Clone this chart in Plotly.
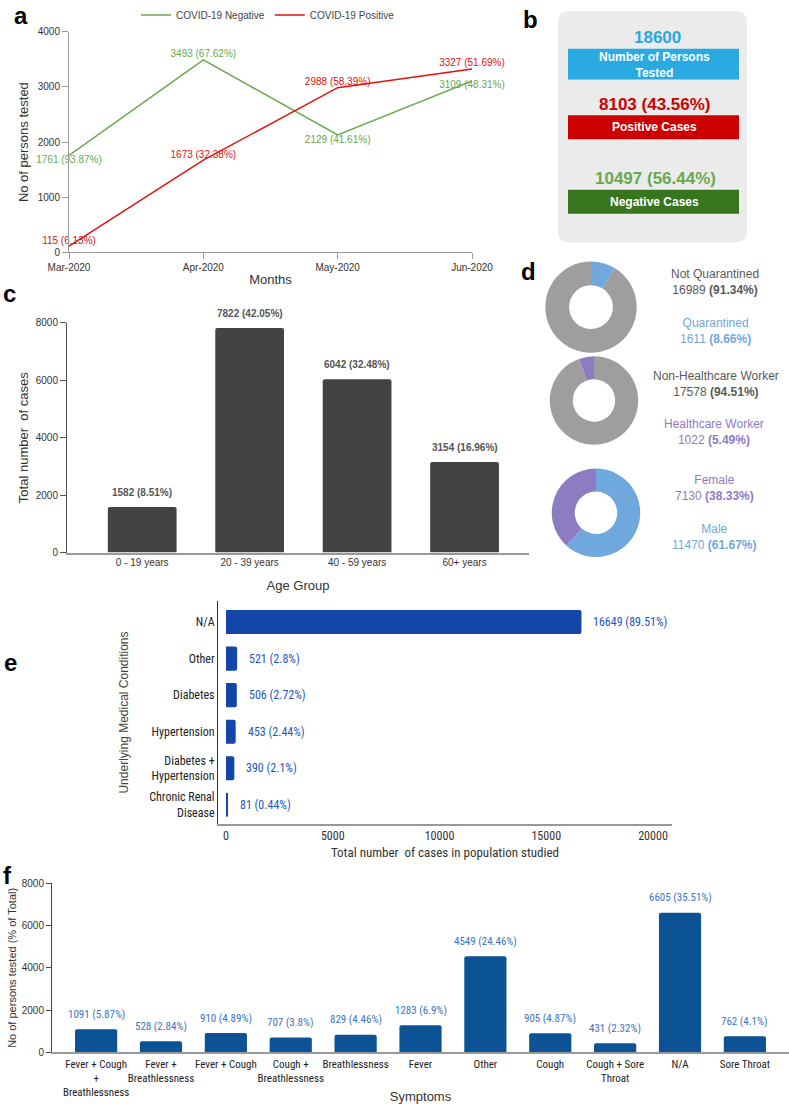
import plotly.graph_objects as go

W, H = 789, 1104


def px(x):
    return x / W


def py(y):
    return 1 - y / H


# ---------------- data ----------------
months = ["Mar-2020", "Apr-2020", "May-2020", "Jun-2020"]
neg_vals = [1761, 3493, 2129, 3109]
neg_pct = ["93.87", "67.62", "41.61", "48.31"]
pos_vals = [115, 1673, 2988, 3327]
pos_pct = ["6.13", "32.38", "58.39", "51.69"]

total_tested = 18600
pos_total, pos_total_pct = 8103, "43.56"
neg_total, neg_total_pct = 10497, "56.44"

age_groups = ["0 - 19 years", "20 - 39 years", "40 - 59 years", "60+ years"]
age_vals = [1582, 7822, 6042, 3154]
age_pct = ["8.51", "42.05", "32.48", "16.96"]

quar_labels = ["Quarantined", "Not Quarantined"]
quar_vals = [1611, 16989]
quar_pct = ["8.66", "91.34"]

hcw_labels = ["Non-Healthcare Worker", "Healthcare Worker"]
hcw_vals = [17578, 1022]
hcw_pct = ["94.51", "5.49"]

sex_labels = ["Male", "Female"]
sex_vals = [11470, 7130]
sex_pct = ["61.67", "38.33"]

conditions = ["Chronic Renal<br>Disease", "Diabetes +<br>Hypertension", "Hypertension",
              "Diabetes", "Other", "N/A"]
cond_vals = [81, 390, 453, 506, 521, 16649]
cond_pct = ["0.44", "2.1", "2.44", "2.72", "2.8", "89.51"]

symptoms = ["Fever + Cough<br>+<br>Breathlessness", "Fever +<br>Breathlessness", "Fever + Cough",
            "Cough +<br>Breathlessness", "Breathlessness", "Fever", "Other", "Cough",
            "Cough + Sore<br>Throat", "N/A", "Sore Throat"]
sym_vals = [1091, 528, 910, 707, 829, 1283, 4549, 905, 431, 6605, 762]
sym_pct = ["5.87", "2.84", "4.89", "3.8", "4.46", "6.9", "24.46", "4.87", "2.32", "35.51", "4.1"]

# ---------------- styles ----------------
SANS = "Liberation Sans, Arial, sans-serif"
NARROW = "Liberation Sans Narrow, Roboto Condensed, Liberation Sans, sans-serif"
GREEN = "#6aa84f"
RED = "#e01010"
GRAY_D = "#9e9e9e"
BLUE_D = "#6fa8dc"
PURP_D = "#8e7cc3"

fig = go.Figure()
annotations = []

# ---------------- panel a ----------------
fig.add_trace(go.Scatter(
    x=months, y=neg_vals, mode="lines+text", name="COVID-19 Negative",
    line=dict(color=GREEN, width=1.5),
    text=[f"{v} ({p}%)" for v, p in zip(neg_vals, neg_pct)],
    textposition=["bottom center", "top center", "bottom center", "bottom center"],
    textfont=dict(color=GREEN, size=10, family=SANS),
    cliponaxis=False, xaxis="x", yaxis="y"))
fig.add_trace(go.Scatter(
    x=months, y=pos_vals, mode="lines+text", name="COVID-19 Positive",
    line=dict(color=RED, width=1.5),
    text=[f"{v} ({p}%)" for v, p in zip(pos_vals, pos_pct)],
    textposition="top center",
    textfont=dict(color=RED, size=10, family=SANS),
    cliponaxis=False, xaxis="x", yaxis="y"))

# ---------------- panel c ----------------
fig.add_trace(go.Bar(
    x=age_groups, y=age_vals, marker=dict(color="#434343", line=dict(width=0), cornerradius=2),
    width=0.64, showlegend=False, xaxis="x2", yaxis="y2"))
for g, v, p in zip(age_groups, age_vals, age_pct):
    annotations.append(dict(x=g, y=v, xref="x2", yref="y2", text=f"<b>{v} ({p}%)</b>",
                            showarrow=False, yanchor="middle", yshift=15,
                            font=dict(color="#555555", size=10, family=SANS)))

# ---------------- panel e ----------------
fig.add_trace(go.Bar(
    y=conditions, x=cond_vals, orientation="h", width=0.66,
    marker=dict(color="#1346a8", line=dict(width=0), cornerradius=2),
    showlegend=False, xaxis="x3", yaxis="y3"))
for c, v, p in zip(conditions, cond_vals, cond_pct):
    annotations.append(dict(x=v, y=c, xref="x3", yref="y3", text=f"{v} ({p}%)",
                            showarrow=False, xanchor="left", yanchor="middle", xshift=10,
                            font=dict(color="#2257c3", size=12, family=NARROW)))

# ---------------- panel f ----------------
fig.add_trace(go.Bar(
    x=symptoms, y=sym_vals, width=0.65,
    marker=dict(color="#0b5394", line=dict(width=0), cornerradius=2),
    showlegend=False, xaxis="x4", yaxis="y4"))
for s, v, p in zip(symptoms, sym_vals, sym_pct):
    annotations.append(dict(x=s, y=v, xref="x4", yref="y4", text=f"{v} ({p}%)",
                            showarrow=False, yanchor="middle", yshift=15,
                            font=dict(color="#3a74bf", size=11, family=NARROW)))


# ---------------- panel d (donuts) ----------------
def donut_domain(cx, cy, r):
    return dict(x=[px(cx - r), px(cx + r)], y=[py(cy + r), py(cy - r)])


fig.add_trace(go.Pie(labels=quar_labels, values=quar_vals, hole=0.48, sort=False,
                     direction="clockwise", rotation=0, textinfo="none",
                     marker=dict(colors=[BLUE_D, GRAY_D]), showlegend=False,
                     domain=donut_domain(591, 302, 46)))
fig.add_trace(go.Pie(labels=hcw_labels, values=hcw_vals, hole=0.48, sort=False,
                     direction="clockwise", rotation=0, textinfo="none",
                     marker=dict(colors=[GRAY_D, PURP_D]), showlegend=False,
                     domain=donut_domain(594, 396, 44.5)))
fig.add_trace(go.Pie(labels=sex_labels, values=sex_vals, hole=0.48, sort=False,
                     direction="clockwise", rotation=0, textinfo="none",
                     marker=dict(colors=[BLUE_D, PURP_D]), showlegend=False,
                     domain=donut_domain(596, 509, 44.5)))


def ann(text, x, y, size=12, color="#595959", family=SANS, **kw):
    d = dict(text=text, x=px(x), y=py(y), xref="paper", yref="paper", showarrow=False,
             font=dict(size=size, color=color, family=family), xanchor="center", yanchor="middle")
    d.update(kw)
    annotations.append(d)


ann(f"{quar_labels[1]}<br>{quar_vals[1]} <b>({quar_pct[1]}%)</b>", 715, 277, color="#595959")
ann(f"{quar_labels[0]}<br>{quar_vals[0]} <b>({quar_pct[0]}%)</b>", 715, 326, color=BLUE_D)
ann(f"{hcw_labels[0]}<br>{hcw_vals[0]} <b>({hcw_pct[0]}%)</b>", 716, 379, color="#595959")
ann(f"{hcw_labels[1]}<br>{hcw_vals[1]} <b>({hcw_pct[1]}%)</b>", 714, 428, color=PURP_D)
ann(f"{sex_labels[1]}<br>{sex_vals[1]} <b>({sex_pct[1]}%)</b>", 714, 484, color=PURP_D)
ann(f"{sex_labels[0]}<br>{sex_vals[0]} <b>({sex_pct[0]}%)</b>", 714, 533, color=BLUE_D)

# ---------------- panel b (summary box) ----------------
shapes = []


def rrect(x0, y0, x1, y1, r, color):
    X0, X1 = px(x0), px(x1)
    Y0, Y1 = py(y0), py(y1)  # Y0 top (larger), Y1 bottom
    rx, ry = r / W, r / H
    path = (f"M {X0+rx},{Y0} L {X1-rx},{Y0} Q {X1},{Y0} {X1},{Y0-ry} "
            f"L {X1},{Y1+ry} Q {X1},{Y1} {X1-rx},{Y1} "
            f"L {X0+rx},{Y1} Q {X0},{Y1} {X0},{Y1+ry} "
            f"L {X0},{Y0-ry} Q {X0},{Y0} {X0+rx},{Y0} Z")
    shapes.append(dict(type="path", path=path, xref="paper", yref="paper",
                       fillcolor=color, line=dict(width=0), layer="below"))


def rect(x0, y0, x1, y1, color):
    shapes.append(dict(type="rect", x0=px(x0), x1=px(x1), y0=py(y1), y1=py(y0),
                       xref="paper", yref="paper", fillcolor=color, line=dict(width=0),
                       layer="below"))


rrect(558, 4, 747, 237, 12, "#ebebeb")
rect(568, 42, 739, 73, "#29abe2")
rect(568, 109, 739, 133, "#cc0000")
rect(568, 184, 739, 208, "#38761d")
ann(f"<b>{total_tested}</b>", 657, 31, size=17, color="#29a8e0")
ann("<b>Number of Persons<br>Tested</b>", 654, 58, size=12, color="white")
ann(f"<b>{pos_total} ({pos_total_pct}%)</b>", 655, 98, size=17, color="#cc0000")
ann("<b>Positive Cases</b>", 654, 121, size=12, color="white")
ann(f"<b>{neg_total} ({neg_total_pct}%)</b>", 655, 173, size=17, color=GREEN)
ann("<b>Negative Cases</b>", 654, 196, size=12, color="white")

# ---------------- panel letters ----------------
for letter, (x, y) in {"a": (21, 9), "b": (530, 13), "c": (9, 288), "d": (528, 266),
                       "e": (10, 660), "f": (8, 874)}.items():
    ann(f"<b>{letter}</b>", x, y, size=24, color="black")

axis_common = dict(showgrid=False, zeroline=False, automargin=False)

fig.update_layout(
    width=W, height=H, margin=dict(l=0, r=0, t=0, b=0),
    paper_bgcolor="white", plot_bgcolor="rgba(0,0,0,0)",
    font=dict(family=SANS, color="#333333"),
    showlegend=True,
    legend=dict(orientation="h", x=px(268), y=py(8), xanchor="center", yanchor="middle",
                font=dict(size=10, color="#444444"), itemwidth=30, bgcolor="rgba(0,0,0,0)"),
    # panel a
    xaxis=dict(domain=[px(69), px(472)], anchor="y", range=[0, 3], **axis_common,
               showline=True, linecolor="#999999", ticks="outside", ticklen=6,
               tickcolor="#999999", tickfont=dict(size=10, color="#333"), tickangle=0,
               title=dict(text="Months", font=dict(size=13, color="#333"), standoff=2)),
    yaxis=dict(domain=[py(247), py(25)], anchor="x", range=[0, 4000], dtick=1000,
               **axis_common, showline=True, linecolor="#999999", ticks="outside",
               ticklen=6, tickcolor="#999999", tickfont=dict(size=10, color="#333"),
               title=dict(text="No of persons tested", font=dict(size=13, color="#333"),
                          standoff=6)),
    # panel c
    xaxis2=dict(domain=[px(67), px(529)], anchor="y2", range=[-0.7, 3.6], **axis_common,
                showline=True, linecolor="#999999", linewidth=1.5, ticks="", tickangle=0,
                tickfont=dict(size=10, color="#333"),
                title=dict(text="Age Group", font=dict(size=13, color="#333"), standoff=14)),
    yaxis2=dict(domain=[py(549), py(318)], anchor="x2", range=[0, 8000], dtick=2000,
                **axis_common, showline=True, linecolor="#555555", ticks="outside",
                ticklen=6, tickcolor="#555555", tickfont=dict(size=10, color="#333"),
                title=dict(text="Total number  of cases", font=dict(size=13, color="#333"),
                           standoff=4)),
    # panel e
    xaxis3=dict(domain=[px(218), px(672)], anchor="y3", range=[-375, 20890], dtick=5000,
                tickformat="d", **axis_common, showline=True, linecolor="#999999",
                linewidth=2, ticks="", tickangle=0,
                tickfont=dict(size=12, color="#333", family=NARROW),
                title=dict(text="Total number\u00a0 of cases in population studied",
                           font=dict(size=13, color="#333", family=NARROW), standoff=6)),
    yaxis3=dict(domain=[py(822), py(598)], anchor="x3", range=[-0.52, 5.57],
                type="category", categoryorder="array", categoryarray=conditions,
                **axis_common, showline=True, linecolor="#333333", ticks="",
                tickfont=dict(size=12, color="#222", family=NARROW),
                title=dict(text="Underlying Medical Conditions",
                           font=dict(size=12, color="#444", family=SANS), standoff=18)),
    # panel f
    xaxis4=dict(domain=[px(52), px(789)], anchor="y4", range=[-0.68, 10.68],
                **axis_common, showline=True, linecolor="#999999", linewidth=2, ticks="",
                tickangle=0, tickfont=dict(size=11, color="#222", family=NARROW),
                title=dict(text="Symptoms", font=dict(size=13, color="#333"), standoff=4)),
    yaxis4=dict(domain=[py(1052), py(882)], anchor="x4", range=[0, 8000], dtick=2000,
                **axis_common, showline=True, linecolor="#444444", ticks="outside",
                ticklen=5, tickcolor="#444444", tickfont=dict(size=10, color="#333"),
                title=dict(text="No of persons tested (% of Total)",
                           font=dict(size=11, color="#333"), standoff=2)),
    annotations=annotations,
    shapes=shapes,
)

fig.write_html("out.html", config={"displayModeBar": False},
               post_script="document.body.style.margin='0';")
